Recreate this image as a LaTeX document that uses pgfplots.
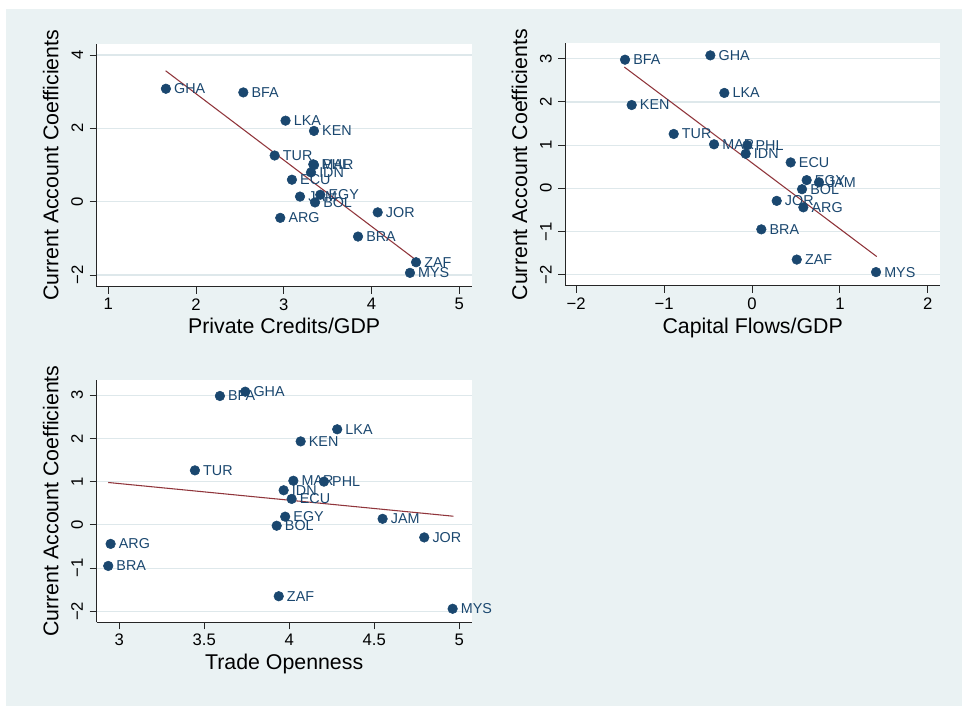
\documentclass[border=0pt]{standalone}
\usepackage{fontspec}
\setmainfont{Liberation Sans}
\usepackage{pgfplots}
\pgfplotsset{compat=1.18}
\usepackage{pgfplotstable}

\definecolor{stnavy}{RGB}{26,71,111}
\definecolor{stmaroon}{RGB}{144,53,59}
\definecolor{stbg}{RGB}{234,242,243}
\definecolor{stgrid}{RGB}{222,232,235}

% country, private credits/GDP, capital flows/GDP, trade openness, current account coefficient
\pgfplotstableread{
cty credit capflow trade ca
GHA 1.657 -0.474 3.741 3.08
BFA 2.539 -1.445 3.592 2.98
LKA 3.020 -0.315 4.282 2.21
KEN 3.344 -1.369 4.067 1.93
TUR 2.896 -0.891 3.445 1.26
MAR 3.336 -0.432 4.024 1.02
PHL 3.345 -0.053 4.204 1.00
IDN 3.310 -0.072 3.967 0.80
ECU 3.093 0.440 4.014 0.60
EGY 3.416 0.622 3.976 0.19
JAM 3.185 0.762 4.549 0.14
BOL 3.356 0.569 3.926 -0.02
JOR 4.070 0.281 4.794 -0.29
ARG 2.960 0.584 2.949 -0.44
BRA 3.846 0.106 2.935 -0.95
ZAF 4.507 0.509 3.938 -1.65
MYS 4.438 1.411 4.961 -1.94
}\cadata

\pgfplotsset{
  stpanel/.style={
    scale only axis,
    width=281.25pt, height=181.9pt,
    axis x line=bottom, axis y line=left,
    axis line style={-, line width=0.75pt, black!85},
    tick align=outside,
    major tick length=5.25pt,
    tick style={line width=0.75pt, black!85},
    ymajorgrids, grid style={stgrid, line width=0.9pt},
    axis background/.style={fill=white},
    tick label style={font=\fontsize{12.5}{14}\selectfont},
    yticklabel style={rotate=90, anchor=south, inner sep=4.8pt},
    label style={font=\fontsize{16}{19}\selectfont},
    xlabel style={at={(axis description cs:0.5,-0.194)}, anchor=base},
    ylabel style={at={(axis description cs:-0.102,0.5)}, anchor=base},
    ylabel={Current Account Coefficients},
    clip=false,
  },
  stdots/.style={only marks, mark=*, mark size=3.6pt, color=stnavy,
    nodes near coords, point meta=explicit symbolic,
    every node near coord/.append style={anchor=west, inner sep=0pt,
      xshift=6pt, font=\fontsize{10.75}{12}\selectfont, text=stnavy}},
  stfit/.style={no marks, stmaroon, line width=0.8pt},
}

\begin{document}
\begin{tikzpicture}
% graph region
\fill[white] (0,0) rectangle (721.5pt,529.5pt);
\fill[stbg] (4.5pt,0) rectangle (721.5pt,522.5pt);

% Private credits
\begin{axis}[stpanel, at={(72.5pt,314.5pt)}, anchor=south west,
  xmin=0.868, xmax=5.141, ymin=-2.316, ymax=4.297,
  xtick={1,2,3,4,5}, xticklabels={1,2,3,4,5},
  ytick={-2,0,2,4}, yticklabels={−2,0,2,4},
  xlabel={Private Credits/GDP}]
  \addplot[stdots] table[x=credit, y=ca, meta=cty] {\cadata};
  \addplot[stfit] coordinates {(1.654,3.57) (4.507,-1.59)};
\end{axis}

% Capital flows
\begin{axis}[stpanel, at={(424pt,315pt)}, anchor=south west,
  width=281pt,
  xmin=-2.124, xmax=2.139, ymin=-2.262, ymax=3.356,
  xtick={-2,-1,0,1,2}, xticklabels={−2,−1,0,1,2},
  ytick={-2,-1,0,1,2,3}, yticklabels={−2,−1,0,1,2,3},
  xlabel={Capital Flows/GDP}]
  \addplot[stdots] table[x=capflow, y=ca, meta=cty] {\cadata};
  \addplot[stfit] coordinates {(-1.453,2.81) (1.419,-1.58)};
\end{axis}

% Trade openness
\begin{axis}[stpanel, at={(72.5pt,62.8pt)}, anchor=south west,
  xmin=2.867, xmax=5.073, ymin=-2.252, ymax=3.356,
  xtick={3,3.5,4,4.5,5}, xticklabels={3,3.5,4,4.5,5},
  ytick={-2,-1,0,1,2,3}, yticklabels={−2,−1,0,1,2,3},
  xlabel={Trade Openness}]
  \addplot[stdots] table[x=trade, y=ca, meta=cty] {\cadata};
  \addplot[stfit] coordinates {(2.935,0.98) (4.965,0.20)};
\end{axis}

\pgfresetboundingbox
\useasboundingbox (0,0) rectangle (721.5pt,529.5pt);
\end{tikzpicture}
\end{document}
